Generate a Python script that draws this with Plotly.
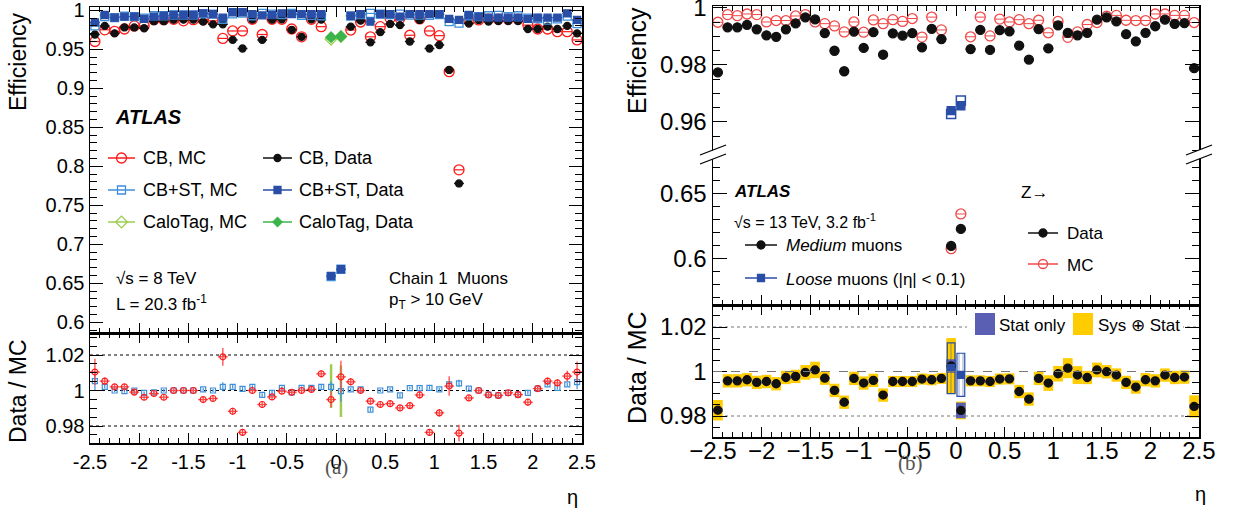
import plotly.graph_objects as go

W, H = 1242, 516
FONT = "Liberation Sans, Arial, sans-serif"

# ---------------- data ----------------
ETA = [-2.45, -2.35, -2.25, -2.15, -2.05, -1.95, -1.85, -1.75, -1.65, -1.55,
       -1.45, -1.35, -1.25, -1.15, -1.05, -0.95, -0.85, -0.75, -0.65, -0.55,
       -0.45, -0.35, -0.25, -0.15, -0.05, 0.05, 0.15, 0.25, 0.35, 0.45,
       0.55, 0.65, 0.75, 0.85, 0.95, 1.05, 1.15, 1.25, 1.35, 1.45,
       1.55, 1.65, 1.75, 1.85, 1.95, 2.05, 2.15, 2.25, 2.35, 2.45]

# panel (a) : 8 TeV
CB_DATA = [0.969, 0.980, 0.9705, 0.978, 0.978, 0.977, 0.986, 0.986, 0.988, 0.988,
           0.988, 0.9855, 0.982, 0.982, 0.962, 0.951, 0.988, 0.962, 0.988, 0.9885,
           0.975, 0.966, 0.9885, 0.988, None, None, 0.979, 0.9867, 0.959, 0.972,
           0.9825, 0.981, 0.960, 0.9876, 0.951, 0.9555, 0.9235, 0.778, 0.983, 0.9876,
           0.9855, 0.9862, 0.9862, 0.9862, 0.976, 0.976, 0.979, 0.976, 0.980, 0.9705]
CB_MC = [0.960, 0.975, 0.973, 0.976, 0.980, 0.980, 0.988, 0.988, 0.9885, 0.9865,
         0.988, 0.988, 0.9865, 0.964, 0.9735, 0.9735, 0.9885, 0.969, 0.9885, 0.9885,
         0.976, 0.966, 0.9885, 0.979, None, None, 0.9747, 0.985, 0.966, 0.979,
         0.9897, 0.9897, 0.968, 0.989, 0.9735, 0.9675, 0.9213, 0.7955, 0.9876, 0.9876,
         0.9885, 0.9885, 0.9885, 0.9885, 0.981, 0.976, 0.976, 0.9726, 0.9726, 0.962]
ST_DATA = [0.9845, 0.994, 0.9905, 0.992, 0.992, 0.989, 0.992, 0.993, 0.994, 0.994,
           0.994, 0.996, 0.995, 0.9905, 0.9975, 0.9975, 0.995, 0.9935, 0.994, 0.996,
           0.995, 0.995, 0.995, 0.995, 0.6594, 0.668, 0.993, 0.995, 0.9855, 0.995,
           0.995, 0.992, 0.995, 0.995, 0.995, 0.995, 0.989, 0.9876, 0.994, 0.992,
           0.9906, 0.9906, 0.9906, 0.9906, 0.989, 0.9906, 0.9906, 0.9906, 0.996, 0.9876]
ST_MC = [0.980, 0.992, 0.9905, 0.9925, 0.992, 0.990, 0.993, 0.993, 0.994, 0.994,
         0.994, 0.9955, 0.995, 0.9885, 0.9955, 0.9965, 0.993, 0.996, 0.995, 0.9945,
         0.996, 0.9935, 0.9935, 0.993, 0.6585, 0.668, 0.9925, 0.9945, 0.996, 0.995,
         0.9945, 0.995, 0.9937, 0.9937, 0.9935, 0.9945, 0.9855, 0.9836, 0.993, 0.992,
         0.993, 0.9935, 0.992, 0.993, 0.990, 0.9895, 0.9873, 0.989, 0.9925, 0.983]
ETA_CT = [-0.05, 0.05]
CT_DATA = [0.9655, 0.9665]
CT_MC = [0.963, 0.9665]

RATIO_CB = [1.0104, 1.0053, 1.0021, 1.0021, 0.9991, 0.9962, 0.9983, 0.9962, 1.0, 1.0,
            1.0, 0.9949, 0.9955, 1.019, 0.9883, 0.9764, 1.0, 0.9921, 0.9964, 0.9996,
            0.999, 1.0, 1.0006, 1.0094, 0.9949, 1.0077, 1.0049, 1.0, 0.994, 0.9921,
            0.9926, 0.9902, 0.9915, 0.9975, 0.9764, 0.9874, 1.0025, 0.976, 0.9958, 1.0,
            0.9975, 0.9972, 0.9987, 0.9977, 0.9934, 1.0011, 1.0053, 1.0043, 1.0081, 1.0104]
RATIO_CB_ERR = [0.0075, 0.002, 0.0015, 0.0015, 0.0015, 0.0015, 0.0015, 0.0015, 0.0012, 0.0012,
                0.0012, 0.0015, 0.0015, 0.005, 0.002, 0.002, 0.0015, 0.002, 0.0015, 0.0015,
                0.0015, 0.0015, 0.0015, 0.002, 0.0045, 0.009, 0.002, 0.0015, 0.0015, 0.0015,
                0.0015, 0.0015, 0.0015, 0.002, 0.002, 0.002, 0.0055, 0.0047, 0.0015, 0.0012,
                0.0012, 0.0012, 0.0012, 0.0015, 0.002, 0.0015, 0.002, 0.002, 0.003, 0.006]
RATIO_ST = [1.0053, 1.0021, 1.0, 0.9996, 1.0, 0.9987, 0.999, 1.0, 1.0, 1.0,
            1.0, 1.0006, 1.0, 1.0021, 1.0021, 1.0009, 1.0021, 0.9975, 0.9987, 1.0015,
            0.999, 1.0015, 1.0015, 1.0021, 1.0021, 0.9996, 1.0006, 1.0006, 0.9892, 1.0,
            1.0006, 0.9972, 1.0013, 1.0013, 1.0015, 1.0006, 1.0034, 1.004, 1.0011, 1.0,
            0.9977, 0.9972, 0.9987, 0.9977, 0.9987, 1.0011, 1.0034, 1.0015, 1.0034, 1.0047]
RATIO_ST_ERR = [0.0055, 0.001, 0.0008, 0.0008, 0.0008, 0.0008, 0.0008, 0.0008, 0.0008, 0.0008,
                0.0008, 0.0008, 0.0008, 0.0025, 0.001, 0.001, 0.0008, 0.001, 0.001, 0.0008,
                0.0008, 0.0008, 0.0008, 0.001, 0.003, 0.006, 0.0008, 0.0008, 0.001, 0.0008,
                0.0008, 0.001, 0.0008, 0.0008, 0.001, 0.0008, 0.002, 0.002, 0.0008, 0.0008,
                0.0008, 0.0008, 0.0008, 0.0008, 0.001, 0.0008, 0.0008, 0.0008, 0.001, 0.004]
RATIO_CT = [1.0025, 0.9996]
RATIO_CT_ERR = [0.0123, 0.0145]

# panel (b) : 13 TeV
MED_DATA = [0.9774, 0.9932, 0.9932, 0.9941, 0.9925, 0.9904, 0.9899, 0.9925, 0.9946, 0.9967,
            0.996, 0.9912, 0.985, 0.9778, 0.9917, 0.986, 0.9915, 0.9836, 0.9911, 0.9903,
            0.9912, 0.9862, 0.9927, 0.9891, 0.6095, 0.6226, 0.9856, 0.9923, 0.9853, 0.9922,
            0.9918, 0.9868, 0.9819, 0.9926, 0.9858, 0.9939, 0.9913, 0.9904, 0.9913, 0.9959,
            0.9967, 0.9953, 0.9908, 0.9883, 0.9913, 0.9936, 0.9959, 0.9944, 0.9947, 0.9789]
MED_MC = [0.995, 0.9977, 0.9973, 0.9979, 0.9977, 0.9951, 0.9956, 0.9956, 0.9972, 0.9977,
          0.9951, 0.9945, 0.9937, 0.9916, 0.9951, 0.9915, 0.9958, 0.9945, 0.9959, 0.9953,
          0.9963, 0.9898, 0.9968, 0.9923, 0.6074, 0.6341, 0.9899, 0.9968, 0.9902, 0.9961,
          0.9951, 0.9959, 0.9945, 0.9957, 0.9913, 0.9953, 0.9897, 0.9916, 0.9942, 0.9949,
          0.9971, 0.9974, 0.9957, 0.9956, 0.9956, 0.9979, 0.9979, 0.9974, 0.9974, 0.9949]
MED_RATIO = [0.9826, 0.9958, 0.9958, 0.9963, 0.9951, 0.9955, 0.9945, 0.9973, 0.9978, 0.9996,
             1.0007, 0.997, 0.9915, 0.9862, 0.9969, 0.9948, 0.996, 0.9894, 0.9955, 0.9955,
             0.9955, 0.9966, 0.9963, 0.9969, 1.0025, 0.9825, 0.9958, 0.9958, 0.9955, 0.9966,
             0.9967, 0.991, 0.9876, 0.9969, 0.9948, 0.999, 1.0015, 0.9984, 0.9973, 1.0007,
             0.9999, 0.9984, 0.9951, 0.993, 0.9963, 0.9958, 0.9984, 0.9973, 0.9975, 0.9843]
MED_SYS = [0.0046, 0.003, 0.003, 0.003, 0.003, 0.003, 0.003, 0.003, 0.003, 0.0033,
           0.0037, 0.003, 0.003, 0.003, 0.003, 0.003, 0.003, 0.003, 0.0025, 0.0025,
           0.0025, 0.0025, 0.0025, 0.0025, 0.0125, 0.004, 0.0025, 0.0025, 0.0025, 0.0025,
           0.0025, 0.003, 0.003, 0.003, 0.0035, 0.0035, 0.0045, 0.004, 0.003, 0.0033,
           0.003, 0.003, 0.003, 0.003, 0.003, 0.003, 0.003, 0.003, 0.003, 0.005]
MED_STAT = [0.0008, 0.0006, 0.0006, 0.0006, 0.0006, 0.0006, 0.0006, 0.0006, 0.0006, 0.0006,
            0.0006, 0.0006, 0.0006, 0.0006, 0.0006, 0.0006, 0.0006, 0.0006, 0.0006, 0.0006,
            0.0006, 0.0006, 0.0006, 0.0006, 0.003, 0.0035, 0.0006, 0.0006, 0.0006, 0.0006,
            0.0006, 0.0006, 0.0006, 0.0006, 0.0006, 0.0006, 0.0006, 0.0006, 0.0006, 0.0006,
            0.0006, 0.0006, 0.0006, 0.0006, 0.0006, 0.0006, 0.0006, 0.0006, 0.0006, 0.0008]
ETA_L = [-0.05, 0.05]
LOOSE_DATA = [0.964, 0.9657]
LOOSE_MC = [0.9628, 0.9675]
LOOSE_RATIO = [1.0015, 0.9985]
LOOSE_ERR = [0.0114, 0.0097]

XTICKS = [-2.5, -2, -1.5, -1, -0.5, 0, 0.5, 1, 1.5, 2, 2.5]
XLAB_A = ["-2.5", "-2", "-1.5", "-1", "-0.5", "0", "0.5", "1", "1.5", "2", "2.5"]
XLAB_B = ["\u22122.5", "\u22122", "\u22121.5", "\u22121", "\u22120.5", "0", "0.5", "1", "1.5", "2", "2.5"]

# ---------------- styling ----------------
RED = "#ff1a1a"
RED_B = "#f04848"
BLACK = "#111111"
LBLUE = "#3f8fd8"
DBLUE = "#2a4ea6"
LGREEN = "#9ccc50"
GREEN = "#3cb44b"
YELLOW = "#ffcc00"
STATC = "#5b5fb4"


def fx(p):
    return p / W


def fy(p):
    return 1 - p / H


fig = go.Figure()


def sc(x, y, xa, ya, symbol, size, color, lw=1.3, ex=None, ey=None, ecolor=None, eth=1.2):
    kw = dict(x=x, y=y, xaxis=xa, yaxis=ya, mode="markers", showlegend=False, hoverinfo="skip",
              marker=dict(symbol=symbol, size=size, color=color, line=dict(color=color, width=lw)))
    if ex is not None:
        kw["error_x"] = dict(type="constant", value=ex, color=ecolor or color, thickness=eth, width=0)
    if ey is not None:
        kw["error_y"] = dict(type="data", array=ey, color=ecolor or color, thickness=eth, width=0)
    fig.add_trace(go.Scatter(**kw))


# ---- panel (a) main
sc(ETA, CB_MC, "x", "y", "circle-open", 10, RED, 1.3, ex=0.05)
sc(ETA, CB_DATA, "x", "y", "circle", 7, BLACK, ex=0.05, eth=1.5)
sc(ETA, ST_MC, "x", "y", "square-open", 8, LBLUE, ex=0.05)
sc(ETA, ST_DATA, "x", "y", "square", 7, DBLUE, ex=0.05)
sc(ETA_CT, CT_MC, "x", "y", "diamond-open", 9, LGREEN, ex=0.05)
sc(ETA_CT, CT_DATA, "x", "y", "diamond", 8, GREEN, ex=0.05)

# ---- panel (a) ratio
sc(ETA_CT, RATIO_CT, "x2", "y2", "line-ew", 2, LGREEN, 1, ey=RATIO_CT_ERR, eth=2.5)
sc(ETA, RATIO_ST, "x2", "y2", "square-open", 5, LBLUE, 1.2, ey=RATIO_ST_ERR, eth=1.2)
sc(ETA, RATIO_CB, "x2", "y2", "circle-open", 6, RED, 1.2, ex=0.05, ey=RATIO_CB_ERR, ecolor="#ff4a4a", eth=1.3)

# ---- panel (b) main (upper and lower parts of the broken axis)
for xa, ya in (("x3", "y3"), ("x4", "y4")):
    sc(ETA, MED_MC, xa, ya, "circle-open", 10, RED_B, 1.3, ex=0.05, eth=1)
    sc(ETA, MED_DATA, xa, ya, "circle", 9, BLACK, ex=0.05, eth=2)
sc(ETA_L, LOOSE_MC, "x3", "y3", "square-open", 9, DBLUE, 1.5)
sc(ETA_L, LOOSE_DATA, "x3", "y3", "square", 8, DBLUE, ex=0.05)

# ---- panel (b) ratio
fig.add_trace(go.Bar(x=ETA, y=[2 * s for s in MED_SYS],
                     base=[r - s for r, s in zip(MED_RATIO, MED_SYS)], width=0.1,
                     marker=dict(color=YELLOW, line=dict(width=0)), xaxis="x5", yaxis="y5",
                     showlegend=False, hoverinfo="skip"))
fig.add_trace(go.Bar(x=ETA, y=[2 * s for s in MED_STAT],
                     base=[r - s for r, s in zip(MED_RATIO, MED_STAT)], width=0.1,
                     marker=dict(color=STATC, line=dict(width=0)), xaxis="x5", yaxis="y5",
                     showlegend=False, hoverinfo="skip"))
fig.add_trace(go.Bar(x=ETA_L, y=[2 * e for e in LOOSE_ERR],
                     base=[r - e for r, e in zip(LOOSE_RATIO, LOOSE_ERR)], width=0.08,
                     marker=dict(color="rgba(0,0,0,0)", line=dict(color=DBLUE, width=1.2),
                                 pattern=dict(shape="|", fgcolor=DBLUE, bgcolor="rgba(0,0,0,0)",
                                              size=4, solidity=0.25, fillmode="overlay")),
                     xaxis="x5", yaxis="y5", showlegend=False, hoverinfo="skip"))
sc(ETA, MED_RATIO, "x5", "y5", "circle", 8, BLACK)
sc(ETA_L, LOOSE_RATIO, "x5", "y5", "square", 7, DBLUE)

# ---------------- axes ----------------
MINOR_X = dict(ticks="inside", ticklen=5, tickmode="linear", tick0=0, dtick=0.1,
               tickcolor="black", tickwidth=1)


def ax(domain, rng, anchor, size=20, **kw):
    d = dict(domain=domain, range=rng, anchor=anchor, autorange=False, showgrid=False,
             zeroline=False, ticks="inside", tickcolor="black", tickwidth=1,
             showline=True, linecolor="black", linewidth=1.5, automargin=False,
             ticklabeloverflow="allow",
             tickfont=dict(family=FONT, size=size, color="black"))
    d.update(kw)
    return d


XA = [fx(90), fx(582)]
XB = [fx(713), fx(1199)]

layout_axes = dict(
    xaxis=ax(XA, [-2.5, 2.5], "y", tickmode="array", tickvals=XTICKS, ticktext=XLAB_A,
             showticklabels=False, ticklen=10, minor=MINOR_X, mirror="allticks"),
    yaxis=ax([fy(333), fy(7)], [0.58628, 1.00423], "x", tickmode="linear", tick0=0, dtick=0.05,
             ticklen=13, mirror="allticks",
             minor=dict(ticks="inside", ticklen=7, tickmode="linear", tick0=0, dtick=0.01,
                        tickcolor="black")),
    xaxis2=ax(XA, [-2.5, 2.5], "y2", tickmode="array", tickvals=XTICKS, ticktext=XLAB_A,
              ticklen=10, minor=MINOR_X, mirror="allticks", ticklabelstandoff=0),
    yaxis2=ax([fy(443), fy(333)], [0.97042, 1.0324], "x2", tickmode="array",
              tickvals=[0.98, 1.0, 1.02], ticktext=["0.98", "1", "1.02"], ticklen=13,
              mirror="allticks",
              minor=dict(ticks="inside", ticklen=7, tickmode="linear", tick0=0, dtick=0.005,
                         tickcolor="black")),
    xaxis3=ax(XB, [-2.5, 2.5], "y3", size=24, side="top", tickmode="array", tickvals=XTICKS,
              showticklabels=False, ticklen=10, minor=MINOR_X, mirror=False),
    yaxis3=ax([fy(154), fy(6)], [0.94877, 1.0007], "x3", size=24, tickmode="array",
              tickvals=[0.96, 0.98, 1.0], ticktext=["0.96", "0.98", "1"], ticklen=14,
              mirror="allticks",
              minor=dict(ticks="inside", ticklen=7, tickmode="linear", tick0=0, dtick=0.005,
                         tickcolor="black")),
    xaxis4=ax(XB, [-2.5, 2.5], "y4", size=24, tickmode="array", tickvals=XTICKS,
              showticklabels=False, ticklen=10, minor=MINOR_X, mirror=False),
    yaxis4=ax([fy(305), fy(154)], [0.56408, 0.68023], "x4", size=24, tickmode="array",
              tickvals=[0.6, 0.65], ticktext=["0.6", "0.65"], ticklen=14, mirror="allticks",
              minor=dict(ticks="inside", ticklen=7, tickmode="linear", tick0=0, dtick=0.01,
                         tickcolor="black")),
    xaxis5=ax(XB, [-2.5, 2.5], "y5", size=24, tickmode="array", tickvals=XTICKS,
              ticktext=XLAB_B, ticklen=10, minor=MINOR_X, mirror="allticks", ticklabelstandoff=-8),
    yaxis5=ax([fy(437), fy(305)], [0.97056, 1.02989], "x5", size=24, tickmode="array",
              tickvals=[0.98, 1.0, 1.02], ticktext=["0.98", "1", "1.02"], ticklen=14,
              mirror="allticks",
              minor=dict(ticks="inside", ticklen=7, tickmode="linear", tick0=0, dtick=0.005,
                         tickcolor="black")),
    xaxis6=dict(domain=[0, 1], range=[0, W], anchor="y6", visible=False, fixedrange=True,
                automargin=False),
    yaxis6=dict(domain=[0, 1], range=[H, 0], anchor="x6", visible=False, fixedrange=True,
                automargin=False),
)

# ---------------- legend samples (aux pixel axes) ----------------
shapes = []


def legend_entry(x0, x1, y, color, symbol, size, lw=1.3):
    shapes.append(dict(type="line", xref="paper", yref="paper", x0=fx(x0), x1=fx(x1),
                       y0=fy(y), y1=fy(y), line=dict(color=color, width=1.5)))
    fig.add_trace(go.Scatter(x=[(x0 + x1) / 2], y=[y], xaxis="x6", yaxis="y6", mode="markers",
                             marker=dict(symbol=symbol, size=size, color=color,
                                         line=dict(color=color, width=lw)),
                             showlegend=False, hoverinfo="skip"))


legend_entry(108, 135, 158, RED, "circle-open", 10)
legend_entry(263, 292, 158, BLACK, "circle", 7)
legend_entry(108, 135, 190, LBLUE, "square-open", 8)
legend_entry(263, 292, 190, DBLUE, "square", 7)
legend_entry(108, 135, 222, LGREEN, "diamond-open", 9)
legend_entry(263, 292, 222, GREEN, "diamond", 7)
legend_entry(745, 777, 245, BLACK, "circle", 8)
legend_entry(745, 777, 278, DBLUE, "square", 7)
legend_entry(1028, 1058, 233, BLACK, "circle", 8)
legend_entry(1028, 1058, 264, RED_B, "circle-open", 9)

# reference lines in the ratio panels
for v in (1.02, 1.0, 0.98):
    shapes.append(dict(type="line", xref="x2", yref="y2", x0=-2.5, x1=2.5, y0=v, y1=v,
                       layer="below", line=dict(color="black", width=1, dash="dot")))
for v, dsh, lay in ((1.02, "dot", "below"), (0.98, "dot", "below"), (1.0, "dash", "above")):
    shapes.append(dict(type="line", xref="x5", yref="y5", x0=-2.5, x1=2.5, y0=v, y1=v,
                       layer=lay, line=dict(color="#777777", width=1, dash=dsh)))

# legend of ratio (b)
shapes.append(dict(type="rect", xref="paper", yref="paper", x0=fx(967), x1=fx(1183),
                   y0=fy(341), y1=fy(309), fillcolor="white", line=dict(width=0)))
shapes.append(dict(type="rect", xref="paper", yref="paper", x0=fx(975), x1=fx(995),
                   y0=fy(335), y1=fy(313), fillcolor=STATC, line=dict(width=0)))
shapes.append(dict(type="rect", xref="paper", yref="paper", x0=fx(1073), x1=fx(1093),
                   y0=fy(335), y1=fy(313), fillcolor=YELLOW, line=dict(width=0)))


# axis break marks in (b)
def brk(xc):
    a0, a1 = xc - 13, xc + 13
    path = "M {} {} L {} {} L {} {} L {} {} Z".format(
        fx(a0), fy(155), fx(a1), fy(145), fx(a1), fy(154), fx(a0), fy(164))
    shapes.append(dict(type="path", xref="paper", yref="paper", path=path,
                       fillcolor="white", line=dict(width=0)))
    for ya, yb in ((155, 145), (164, 154)):
        shapes.append(dict(type="line", xref="paper", yref="paper", x0=fx(a0), y0=fy(ya),
                           x1=fx(a1), y1=fy(yb), line=dict(color="black", width=1.3)))


brk(713)
brk(1199)

# ---------------- text ----------------
annotations = []


def ann(text, x, y, size, xanchor="left", angle=0, family=FONT, color="black"):
    annotations.append(dict(text=text, x=fx(x), y=fy(y), xref="paper", yref="paper",
                            showarrow=False, xanchor=xanchor, yanchor="middle",
                            textangle=angle, font=dict(family=family, size=size, color=color)))


# (a)
ann("<b><i>ATLAS</i></b>", 113, 117, 20)
ann("CB, MC", 141, 158, 18)
ann("CB, Data", 297, 158, 18)
ann("CB+ST, MC", 141, 190, 18)
ann("CB+ST, Data", 297, 190, 18)
ann("CaloTag, MC", 141, 222, 18)
ann("CaloTag, Data", 297, 222, 18)
ann("\u221As = 8 TeV", 114, 278, 17)
ann("L = 20.3 fb<sup>-1</sup>", 114, 303, 17)
ann("Chain 1\u00a0 Muons", 387, 278, 17)
ann("p<sub>T</sub> &gt; 10 GeV", 387, 301, 17)
ann("(a)", 336, 467, 21, xanchor="center", family="Liberation Serif, serif", color="#555555")
ann("\u03b7", 572, 497, 20, xanchor="center")
ann("Efficiency", 18, 62, 23, xanchor="center", angle=-90)
ann("Data / MC", 18, 391, 23, xanchor="center", angle=-90)

# (b)
ann("<b><i>ATLAS</i></b>", 732, 191, 17)
ann("\u221As = 13 TeV, 3.2 fb<sup>-1</sup>", 732, 221, 16)
ann("<i>Medium</i> muons", 784, 246, 17)
ann("<i>Loose</i> muons (|\u03b7| &lt; 0.1)", 784, 279, 17)
ann("Z\u2192", 1019, 192, 17)
ann("Data", 1065, 234, 17)
ann("MC", 1065, 265, 17)
ann("Stat only", 997, 325, 17)
ann("Sys \u2295 Stat", 1096, 325, 17)
ann("(b)", 910, 463, 21, xanchor="center", family="Liberation Serif, serif", color="#555555")
ann("\u03b7", 1200, 494, 20, xanchor="center")
ann("Efficiency", 637, 60, 25, xanchor="center", angle=-90)
ann("Data / MC", 637, 367, 25, xanchor="center", angle=-90)

fig.update_layout(
    width=W, height=H, margin=dict(l=0, r=0, t=0, b=0, pad=0, autoexpand=False),
    paper_bgcolor="white", plot_bgcolor="rgba(0,0,0,0)",
    barmode="overlay", showlegend=False,
    font=dict(family=FONT, color="black"),
    shapes=shapes, annotations=annotations,
    **layout_axes,
)

fig.write_html("out.html", include_plotlyjs=True, full_html=True,
               config={"displayModeBar": False, "staticPlot": True},
               post_script="document.body.style.margin='0px';document.body.style.overflow='hidden';")
